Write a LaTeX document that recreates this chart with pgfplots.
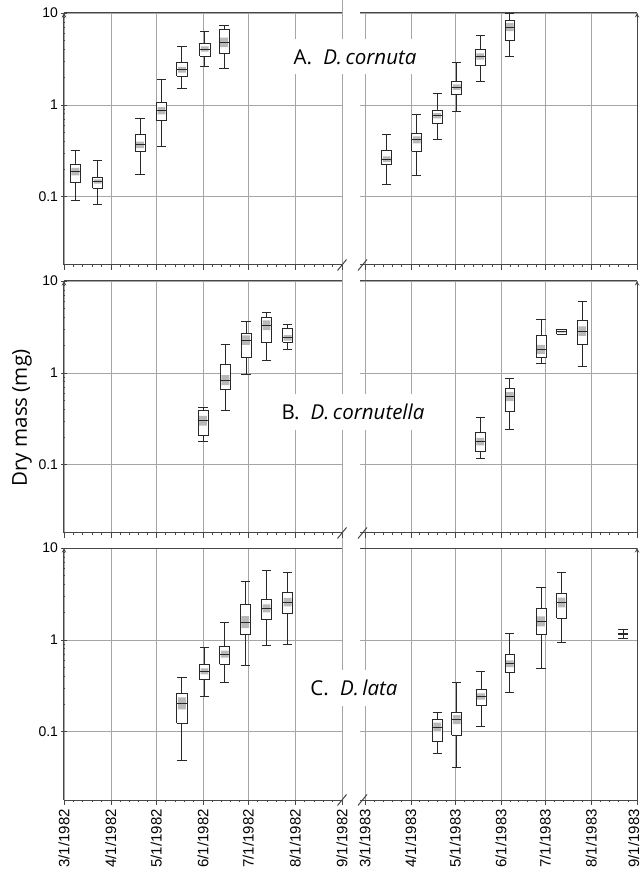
\documentclass[border=0pt]{standalone}
\usepackage{pgfplots}
\pgfplotsset{compat=1.18}
\usepackage{fontspec}
\setmainfont{Liberation Sans}
\newfontfamily\labfont{Open Sans}
\definecolor{gridc}{RGB}{165,165,165}
\definecolor{framec}{RGB}{70,70,70}
\definecolor{bandc}{RGB}{185,185,185}
\definecolor{boxc}{RGB}{40,40,40}

% \bx{position}{lower whisker}{lower quartile}{median}{upper quartile}{upper whisker}
\newcommand{\bx}[6]{%
 \pgfmathsetmacro\xl{#1-3.35}\pgfmathsetmacro\xr{#1+3.35}%
 \pgfmathsetmacro\cl{#1-3.1}\pgfmathsetmacro\cR{#1+3.1}%
 \pgfmathsetmacro\bl{#1-2.6}\pgfmathsetmacro\bR{#1+2.6}%
 \pgfmathsetmacro\bxr{exp(0.2*ln(#5/#3))}%
 \pgfmathsetmacro\blo{max(#3,#4/\bxr)}%
 \pgfmathsetmacro\bhi{min(#5,#4*\bxr)}%
 \edef\bxcmd{%
  \noexpand\addplot[whS] coordinates {(#1,#5) (#1,#6)};
  \noexpand\addplot[whS] coordinates {(\cl,#6) (\cR,#6)};
  \noexpand\addplot[whS] coordinates {(#1,#2) (#1,#3)};
  \noexpand\addplot[whS] coordinates {(\cl,#2) (\cR,#2)};
  \noexpand\addplot[bxS] coordinates {(\xl,#3) (\xr,#3) (\xr,#5) (\xl,#5) (\xl,#3)};
  \noexpand\addplot[bdS] coordinates {(\bl,\blo) (\bR,\blo) (\bR,\bhi) (\bl,\bhi) (\bl,\blo)};
  \noexpand\addplot[bxS, fill=none] coordinates {(\xl,#3) (\xr,#3) (\xr,#5) (\xl,#5) (\xl,#3)};
  \noexpand\addplot[mdS] coordinates {(\xl,#4) (\xr,#4)};
 }\bxcmd}

\pgfplotsset{
 whS/.style={mark=none, draw=boxc, line width=0.8pt},
 bxS/.style={mark=none, draw=boxc, fill=white, line width=0.7pt},
 bdS/.style={mark=none, draw=none, fill=bandc},
 mdS/.style={mark=none, draw=boxc, line width=1pt},
 every axis/.append style={scale only axis, height=252pt, ymin=0.018, ymax=10, xmax=184,
   axis x line=box, xtick pos=left, tick align=outside,
   xtick={0,31,61,92,122,153,184},
   minor xtick={6.2,12.4,18.6,24.8,37,43,49,55,67.2,73.4,79.6,85.8,98,104,110,116,128.2,134.4,140.6,146.8,159.2,165.4,171.6,177.8},
   xmajorgrids, ymajorgrids, major grid style={gridc, line width=0.5pt},
   axis line style={-, framec, line width=1pt},
   major tick length=5pt, minor tick length=2.5pt, tick style={framec, line width=0.6pt},
   ytick={0.1,1,10}, xticklabels={},
   /pgf/number format/assume math mode=true,
   tick label style={font=\fontsize{14}{16}\selectfont}},
 datelab/.style={xticklabel style={rotate=90, anchor=east, font=\fontsize{15}{17}\selectfont, inner sep=4pt}},
}

\begin{document}
\begin{tikzpicture}
\path[use as bounding box] (0,0) rectangle (642pt,873pt);
\draw[gridc, line width=0.5pt] (342pt,73pt) -- (342pt,873pt);
\draw[gridc, line width=0.5pt] (365pt,73pt) -- (365pt,860pt);

% ---------- A ----------
\begin{semilogyaxis}[at={(64pt,608pt)}, anchor=south west, width=278pt, xmin=0, axis y line=left, yticklabels={0.1,1,10}]
\bx{7.5}{0.090}{0.142}{0.187}{0.227}{0.318}
\bx{22.3}{0.083}{0.124}{0.146}{0.163}{0.247}
\bx{50.3}{0.175}{0.315}{0.366}{0.474}{0.716}
\bx{64.5}{0.351}{0.675}{0.86}{1.06}{1.91}
\bx{78}{1.51}{2.06}{2.41}{2.92}{4.32}
\bx{93.2}{2.62}{3.37}{4.05}{4.66}{6.3}
\bx{106}{2.51}{3.6}{4.78}{6.58}{7.27}
\end{semilogyaxis}
\begin{semilogyaxis}[at={(360pt,608pt)}, anchor=south west, width=277pt, xmin=-3.4, axis y line=right, yticklabels={}, y tick style={draw=none}]
\bx{14.7}{0.137}{0.223}{0.256}{0.318}{0.471}
\bx{35}{0.169}{0.315}{0.415}{0.491}{0.79}
\bx{48.9}{0.422}{0.63}{0.759}{0.881}{1.34}
\bx{62}{0.845}{1.29}{1.56}{1.81}{2.89}
\bx{78}{1.8}{2.71}{3.36}{4.05}{5.7}
\bx{98}{3.36}{4.99}{7.03}{8.3}{10}
\end{semilogyaxis}

% ---------- B ----------
\begin{semilogyaxis}[at={(64pt,340pt)}, anchor=south west, width=278pt, xmin=0, axis y line=left, yticklabels={0.1,1,10}]
\bx{92}{0.178}{0.21}{0.30}{0.386}{0.42}
\bx{106.8}{0.386}{0.665}{0.834}{1.24}{2.05}
\bx{120.5}{0.97}{1.49}{2.27}{2.68}{3.67}
\bx{134}{1.35}{2.16}{3.3}{4.0}{4.6}
\bx{148}{1.81}{2.16}{2.4}{3.04}{3.36}
\end{semilogyaxis}
\begin{semilogyaxis}[at={(360pt,340pt)}, anchor=south west, width=277pt, xmin=-3.4, axis y line=right, yticklabels={}, y tick style={draw=none}]
\bx{78}{0.116}{0.138}{0.178}{0.223}{0.327}
\bx{98}{0.244}{0.384}{0.55}{0.683}{0.869}
\bx{119}{1.26}{1.46}{1.8}{2.55}{3.86}
\bx{133}{2.63}{2.63}{2.8}{2.96}{2.96}
\bx{147}{1.18}{2.05}{2.84}{3.71}{5.97}
\end{semilogyaxis}

% ---------- C ----------
\begin{semilogyaxis}[at={(64pt,73pt)}, anchor=south west, width=278pt, xmin=0, axis y line=left, yticklabels={0.1,1,10},
  xticklabels={3/1/1982,4/1/1982,5/1/1982,6/1/1982,7/1/1982,8/1/1982,9/1/1982}, datelab]
\bx{78}{0.0485}{0.124}{0.203}{0.261}{0.393}
\bx{93}{0.242}{0.374}{0.453}{0.545}{0.835}
\bx{106.4}{0.341}{0.54}{0.70}{0.84}{1.55}
\bx{120}{0.522}{1.14}{1.56}{2.43}{4.33}
\bx{134}{0.877}{1.68}{2.2}{2.75}{5.66}
\bx{148}{0.885}{1.92}{2.58}{3.28}{5.48}
\end{semilogyaxis}
\begin{semilogyaxis}[at={(360pt,73pt)}, anchor=south west, width=277pt, xmin=-3.4, axis y line=right, yticklabels={}, y tick style={draw=none},
  xticklabels={3/1/1983,4/1/1983,5/1/1983,6/1/1983,7/1/1983,8/1/1983,\raisebox{3.5pt}[11pt][0pt]{9/1/1983}}, datelab]
\bx{48.9}{0.0585}{0.078}{0.112}{0.135}{0.164}
\bx{62}{0.0411}{0.0918}{0.135}{0.162}{0.344}
\bx{78.4}{0.113}{0.193}{0.242}{0.286}{0.453}
\bx{98}{0.27}{0.446}{0.549}{0.689}{1.16}
\bx{119}{0.493}{1.16}{1.59}{2.18}{3.7}
\bx{133}{0.937}{1.73}{2.55}{3.18}{5.42}
\bx{174.5}{1.035}{1.16}{1.16}{1.16}{1.31}
\end{semilogyaxis}

% break marks
\foreach \yy in {608,340,73}{
  \draw[framec, line width=1pt] (337.5pt,\yy pt-5.5pt) -- ++(9pt,11pt);
  \draw[framec, line width=1pt] (358pt,\yy pt-5.5pt) -- ++(9pt,11pt);
}

% panel labels
\tikzset{plab/.style={fill=white, inner xsep=6pt, inner ysep=10pt, font=\labfont\fontsize{20.5}{24}\selectfont}}
\node[plab] at (355pt,816pt) {A.\hspace{0.55em}\textit{D.\,cornuta}};
\node[plab] at (353pt,461pt) {B.\hspace{0.55em}\textit{D.\,cornutella}};
\node[plab] at (354pt,185pt) {C.\hspace{0.55em}\textit{D.\,lata}};

\node[rotate=90, font=\labfont\fontsize{20.5}{24}\selectfont] at (22pt,455pt) {Dry mass (mg)};
\end{tikzpicture}
\end{document}
